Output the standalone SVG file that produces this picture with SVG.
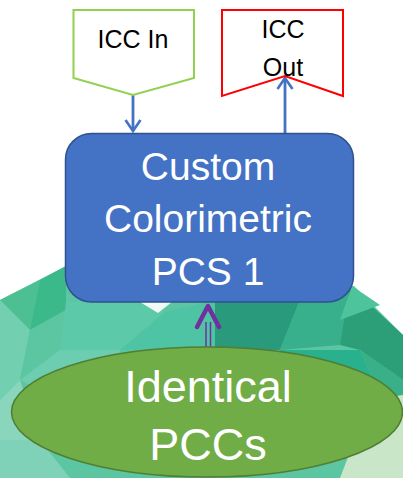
<svg xmlns="http://www.w3.org/2000/svg" width="403" height="478" viewBox="0 0 403 478">
<defs>
<style>
.lbl{font-family:"Liberation Sans",Arial,sans-serif;text-anchor:middle}
.blue{stroke:#4472c4;stroke-width:2.8;fill:none}
</style>
<marker id="openBlue" markerWidth="14" markerHeight="18" refX="12" refY="9" orient="auto" markerUnits="userSpaceOnUse">
<path d="M1,1.5 L12,9 L1,16.5" fill="none" stroke="#4472c4" stroke-width="2.6"/>
</marker>
</defs>
<rect width="403" height="478" fill="#ffffff"/>
<g id="background">
<polygon points="0,300 66,266 140,290 354,286 403,335 403,478 0,478" fill="#5cc6a2"/>
<polygon points="0,300 40,280 30,330" fill="#4cc093"/>
<polygon points="40,280 66,266 66,310 30,330" fill="#3cb98a"/>
<polygon points="0,300 30,330 20,380 0,400" fill="#72cfb0"/>
<polygon points="30,330 66,310 60,350 20,380" fill="#5cc6a2"/>
<polygon points="0,400 20,380 40,440 0,478" fill="#8ad6bd"/>
<polygon points="0,440 40,440 70,478 0,478" fill="#7fd2b8"/>
<polygon points="66,302 145,302 165,312 120,350 60,350" fill="#5ccaa8"/>
<polygon points="60,350 120,350 100,420 20,380" fill="#6ccdb0"/>
<polygon points="165,312 215,300 215,350 120,350" fill="#4fc4a5"/>
<polygon points="215,300 300,300 280,350 215,350" fill="#2a9a7c"/>
<polygon points="300,300 354,290 340,345 280,350" fill="#38b08c"/>
<polygon points="350,286 403,335 403,380 360,350 340,345" fill="#2c9e78"/>
<polygon points="352,286 380,305 340,320" fill="#4ec49c"/>
<polygon points="403,380 360,350 390,420 403,420" fill="#3ab089"/>
<polygon points="280,350 360,350 390,420 300,420" fill="#29b08c"/>
<polygon points="370,400 403,395 403,478 340,478" fill="#c9e6c8"/>
<polygon points="140,302 172,302 158,313" fill="#f2faf6"/>
</g>
<g id="connectors">
<line x1="133" y1="95" x2="133" y2="131" class="blue" marker-end="url(#openBlue)"/>
<line x1="285" y1="133" x2="285" y2="78" class="blue" marker-end="url(#openBlue)"/>
<g id="double-arrow" stroke="#7030a0" fill="none">
<line x1="206" y1="322" x2="206" y2="347" stroke-width="1.5"/>
<line x1="210.5" y1="322" x2="210.5" y2="347" stroke-width="1.5"/>
<path d="M197,327 L208,306 L219,327" stroke-width="4.5" stroke-linecap="round" stroke-linejoin="round"/>
</g>
</g>
<g id="icc-in">
<polygon points="73.5,10 194,10 194,78 133,95 73.5,78" fill="#ffffff" stroke="#92d050" stroke-width="2"/>
<text x="133" y="48" class="lbl" font-size="25" fill="#000000">ICC In</text>
</g>
<g id="icc-out">
<polygon points="222,10 343,10 343,96 285,76 222,96" fill="#ffffff" stroke="#ff0000" stroke-width="2"/>
<text x="283" y="38" class="lbl" font-size="25" fill="#000000">ICC</text>
<text x="283" y="76" class="lbl" font-size="25" fill="#000000">Out</text>
</g>
<g id="pcs-box">
<rect x="65.5" y="133.5" width="288" height="168.5" rx="26" fill="#4472c4" stroke="#2f528f" stroke-width="1.5"/>
<text x="208" y="180" class="lbl" font-size="39" fill="#ffffff">Custom</text>
<text x="208" y="232" class="lbl" font-size="39" fill="#ffffff">Colorimetric</text>
<text x="208" y="285" class="lbl" font-size="39" fill="#ffffff">PCS 1</text>
</g>
<g id="pccs">
<ellipse cx="207" cy="412" rx="195.5" ry="65" fill="#70ad47" stroke="#507e32" stroke-width="1.5"/>
<text x="208" y="402" class="lbl" font-size="45" fill="#ffffff">Identical</text>
<text x="208" y="460" class="lbl" font-size="45" fill="#ffffff">PCCs</text>
</g>
</svg>
